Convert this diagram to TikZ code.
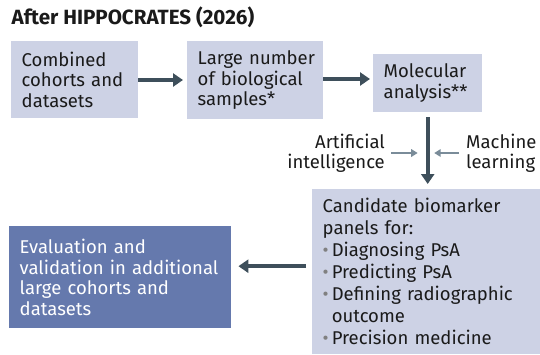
\documentclass[tikz,border=0pt]{standalone}
\usepackage{fontspec}
\setmainfont{Fira Sans}
\usetikzlibrary{arrows.meta}

\definecolor{boxlight}{HTML}{CDD2E5}
\definecolor{boxdark}{HTML}{6579AD}
\definecolor{ink}{HTML}{1A1A1A}
\definecolor{arrowdark}{HTML}{3E4F5B}
\definecolor{arrowgrey}{HTML}{7A8C99}
\definecolor{dotgrey}{HTML}{808080}

% body text: no hyphenation, lines are broken by hand
\newcommand{\bodysize}{\fontsize{18.5}{20.5}\selectfont\hyphenpenalty=10000\hfuzz=20pt}
\newcommand{\itm}{\textcolor{dotgrey}{•}\,}
\newcommand{\hang}{\hphantom{•\,}}

\tikzset{
  box/.style={rectangle, inner xsep=10.5pt, inner ysep=0pt, align=left,
    font=\bodysize, anchor=north west},
  light/.style={box, fill=boxlight, text=ink},
  dark/.style={box, fill=boxdark, text=white},
  flow/.style={draw=arrowdark, line width=3.6pt,
    -{Triangle[length=10pt,width=13pt]}},
  hint/.style={draw=arrowgrey, line width=1.8pt,
    -{Triangle[length=6.5pt,width=7.5pt]}},
  label/.style={font=\bodysize, text=ink, inner sep=0pt},
}

\begin{document}
\begin{tikzpicture}[x=1pt,y=-1pt]
  \useasboundingbox (0,0) rectangle (540,354);

  % heading
  \node[anchor=base west, inner sep=0pt, text=ink,
        font=\bfseries\fontsize{20.6}{24}\selectfont] (title) at (11.5,24)
        {After HIPPOCRATES (2026)};

  % top row of steps
  \node[light, minimum width=127pt, minimum height=77pt, text width=106pt]
    (b1) at (11,41) {Combined\\cohorts~and\\datasets};
  \node[light, minimum width=136pt, minimum height=78pt, text width=115pt]
    (b2) at (187,41) {Large~number\\of~biological\\samples*};
  \node[light, minimum width=109pt, minimum height=58pt, text width=88pt]
    (b3) at (373,54) {Molecular\\analysis**};

  % result panel and follow-up step
  \node[light, minimum width=228pt, minimum height=165pt, text width=207pt,
        font=\fontsize{18.5}{22}\selectfont]
    (b5) at (312,189) {Candidate~biomarker\\panels~for:\\
      \itm Diagnosing~PsA\\\itm Predicting~PsA\\
      \itm Defining~radiographic\\\hang outcome\\\itm Precision~medicine};
  \node[dark, minimum width=222pt, minimum height=102pt, text width=201pt]
    (b4) at (9,226) {Evaluation~and\\validation~in~additional\\large~cohorts~and\\datasets};

  % side inputs to the analysis step
  \node[label, anchor=east, align=right] (ai) at (385,153)
    {Artificial\\intelligence};
  \node[label, anchor=west, align=left] (ml) at (466,153)
    {Machine\\learning};

  % connectors
  \draw[flow, shorten >=4pt] (b1.east |- 0,80) -- (b2.west |- 0,80);
  \draw[flow, shorten >=3pt] (b2.east |- 0,79) -- (b3.west |- 0,79);
  \draw[flow, shorten <=5pt, shorten >=5pt] (b3.south) -- (b3.south |- b5.north);
  \draw[flow, shorten <=6pt, shorten >=7pt]
    ([yshift=5.5pt]b5.west) -- ([yshift=5.5pt]b5.west -| b4.east);
  \draw[hint, shorten <=6pt, shorten >=10pt] (ai.east) -- (ai.east -| b3.south);
  \draw[hint, shorten <=7pt, shorten >=6.5pt] (ml.west) -- (ml.west -| b3.south);
\end{tikzpicture}
\end{document}
